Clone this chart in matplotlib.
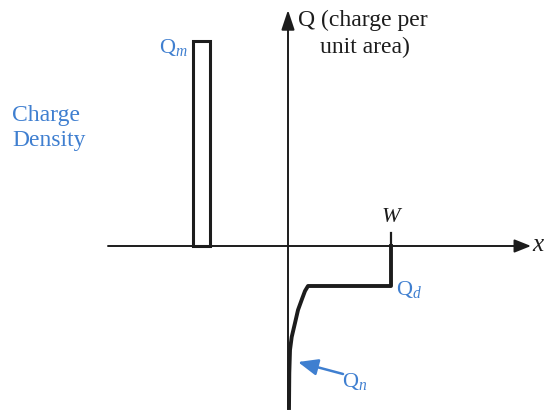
"""Charge density sketch: metal charge Qm, depletion charge Qd, inversion Qn."""

import matplotlib

matplotlib.use("Agg")
import matplotlib.pyplot as plt  # noqa: E402
from matplotlib.patches import FancyArrowPatch, Rectangle  # noqa: E402

plt.rcParams["font.family"] = ["Liberation Serif", "DejaVu Serif"]
plt.rcParams["mathtext.fontset"] = "custom"
plt.rcParams["mathtext.rm"] = "Liberation Serif"
plt.rcParams["mathtext.it"] = "Liberation Serif:italic"

# data (origin = axes crossing, units roughly pixels, Q up positive)
qm_x = [-95, -78]          # metal charge sheet, left/right edge
qm_height = 205
w_edge = 103               # depletion width W
qd_level = -40             # depletion charge density
qn_x = [103, 20, 17, 14, 10, 7, 3.7, 2, 1.3, 1.0]
qn_q = [-40, -40, -45, -53, -64, -77, -91, -104, -127, -162]

BLUE = "#3f7fd0"
BLACK = "#1c1c1c"

fig = plt.figure(figsize=(5.45, 4.13), dpi=100)
ax = fig.add_axes([0, 0, 1, 1])
ax.set_xlim(-288, 257)
ax.set_ylim(-167, 246)
ax.set_axis_off()

# axes
ax.add_patch(FancyArrowPatch((-180, 0), (243, 0), arrowstyle="-|>,head_length=10,head_width=4",
                             color=BLACK, lw=1.4, shrinkA=0, shrinkB=0))
ax.add_patch(FancyArrowPatch((0, -163), (0, 236), arrowstyle="-|>,head_length=12,head_width=4",
                             color=BLACK, lw=1.4, shrinkA=0, shrinkB=0))

# metal charge
ax.add_patch(Rectangle((qm_x[0], 0), qm_x[1] - qm_x[0], qm_height,
                       facecolor="white", edgecolor=BLACK, lw=2.2, zorder=3))

# W tick and Qd / Qn profile
ax.plot([w_edge, w_edge], [13, 0], color=BLACK, lw=1.6)
ax.plot([w_edge] + [w_edge] + qn_x[1:], [0, qd_level] + qn_q[1:], color=BLACK, lw=2.8,
        solid_joinstyle="round")

# labels
ax.text(-129, 198, r"Q$_{m}$", color=BLUE, fontsize=16, ha="left", va="center")
ax.text(-276, 118, "Charge\nDensity", color=BLUE, fontsize=17, ha="left", va="center",
        linespacing=1.2)
ax.text(10, 226, "Q (charge per", color=BLACK, fontsize=17, ha="left", va="center")
ax.text(32, 199, "unit area)", color=BLACK, fontsize=17, ha="left", va="center")
ax.text(250, 1, "x", color=BLACK, fontsize=18, style="italic", ha="center", va="center")
ax.text(103, 28, "W", color=BLACK, fontsize=16, style="italic", ha="center", va="center")
ax.text(108, -44, r"Q$_{d}$", color=BLUE, fontsize=16, ha="left", va="center")
ax.text(54, -136, r"Q$_{n}$", color=BLUE, fontsize=16, ha="left", va="center")
ax.add_patch(FancyArrowPatch((55, -128), (10, -116), arrowstyle="-|>,head_length=12,head_width=5",
                             color=BLUE, lw=1.8, shrinkA=0, shrinkB=0))

fig.savefig("out.png", dpi=100, facecolor="white")
